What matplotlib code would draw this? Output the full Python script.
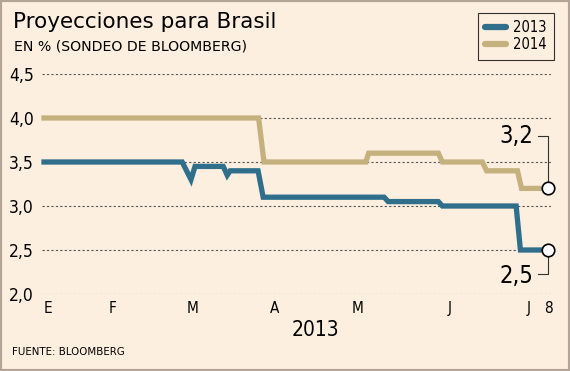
import matplotlib.pyplot as plt
from matplotlib.patches import Rectangle
import matplotlib.transforms as mtrans

# day of year 2013 (Jan 1 = 0) and projected GDP growth (%)
days_2014 = [0, 80, 82, 120, 121, 147, 148.5, 163.4, 165, 176.5, 178, 188]
vals_2014 = [4.0, 4.0, 3.5, 3.5, 3.6, 3.6, 3.5, 3.5, 3.4, 3.4, 3.2, 3.2]

days_2013 = [0, 51.5, 54.8, 56.3, 66.8, 68.3, 69.4, 79.8, 81.7, 126.8, 128.3,
             147, 148.5, 176, 177.6, 188]
vals_2013 = [3.5, 3.5, 3.3, 3.45, 3.45, 3.35, 3.4, 3.4, 3.1, 3.1, 3.05,
             3.05, 3.0, 3.0, 2.5, 2.5]

month_pos = [1.5, 25.7, 55.2, 85.8, 117, 151.4, 180.5, 188]
month_labels = ["E", "F", "M", "A", "M", "J", "J", "8"]
y_ticks = [2.0, 2.5, 3.0, 3.5, 4.0, 4.5]

bg = "#fcefdf"
c2013 = "#2f6f8c"
c2014 = "#c5b17d"

plt.rcParams["font.stretch"] = "condensed"

W, H = 570, 371
fig = plt.figure(figsize=(W / 100, H / 100), dpi=100, facecolor=bg)
fig.patches.append(Rectangle((0, 0), 1, 1, transform=fig.transFigure,
                             fill=False, edgecolor="#b3a497", linewidth=3))

ax = fig.add_axes([42 / W, 1 - 294 / H, 509 / W, 220 / H], facecolor=bg)
ax.set_xlim(-0.75, 189)
ax.set_ylim(2.0, 4.5)

for y in y_ticks:
    ax.axhline(y, color="#555555", linestyle=(0, (2, 2)), linewidth=0.8, zorder=1)

ax.plot(days_2013, vals_2013, color=c2013, linewidth=3.8, solid_joinstyle="miter",
        label="2013", zorder=3, clip_on=False)
ax.plot(days_2014, vals_2014, color=c2014, linewidth=3.8, solid_joinstyle="miter",
        label="2014", zorder=3, clip_on=False)

# end markers
ax.plot([days_2014[-1], days_2013[-1]], [vals_2014[-1], vals_2013[-1]], "o",
        markersize=9, markerfacecolor="white", markeredgecolor="black",
        markeredgewidth=1.2, zorder=5, clip_on=False)

# callouts
ax.plot([184, 188, 188], [3.8, 3.8, 3.2], color="#333333", linewidth=0.8, zorder=4)
ax.plot([184, 188, 188], [2.23, 2.23, 2.5], color="#333333", linewidth=0.8, zorder=4)
ax.text(182.5, 3.79, "3,2", fontsize=17, ha="right", va="center")
ax.text(182.5, 2.21, "2,5", fontsize=17, ha="right", va="center")

for s in ax.spines.values():
    s.set_visible(False)
ax.set_yticks(y_ticks)
ax.set_yticklabels([f"{v:.1f}".replace(".", ",") for v in y_ticks], fontsize=12.5)
ax.set_xticks(month_pos)
ax.set_xticklabels(month_labels, fontsize=11)
ax.tick_params(length=0)
ax.tick_params(axis="x", pad=5)
ax.tick_params(axis="y", pad=6)

yr = mtrans.blended_transform_factory(ax.transData, fig.transFigure)
ax.text(101, 1 - 330 / H, "2013", fontsize=15, ha="center", va="center",
        transform=yr)

leg = ax.legend(loc="upper right", bbox_to_anchor=(554 / W, 1 - 13 / H),
                bbox_transform=fig.transFigure, frameon=True, borderaxespad=0,
                prop={"size": 10.5, "stretch": "condensed"},
                handlelength=1.4, handletextpad=0.5, borderpad=0.5,
                labelspacing=0.15, fancybox=False, edgecolor="black")
leg.get_frame().set_facecolor(bg)
leg.get_frame().set_linewidth(0.8)
for h in leg.get_lines():
    h.set_linewidth(4.5)
    h.set_solid_capstyle("round")

fig.text(13 / W, 1 - 22 / H, "Proyecciones para Brasil", fontsize=15.5, va="center",
         stretch="normal")
fig.text(14 / W, 1 - 47 / H, "EN % (SONDEO DE BLOOMBERG)", fontsize=10.2, va="center",
         stretch="normal")
fig.text(12 / W, 1 - 352 / H, "FUENTE: BLOOMBERG", fontsize=8.2, va="center")

fig.savefig("out.png", dpi=100, facecolor=bg)
